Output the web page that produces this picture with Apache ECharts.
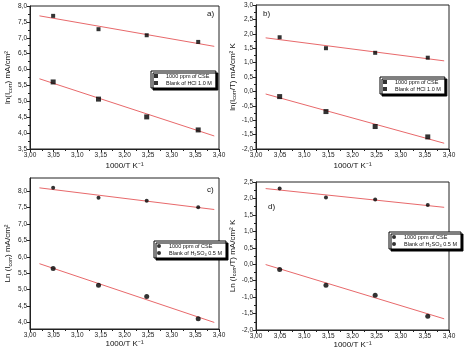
<!DOCTYPE html>
<html>
<head>
<meta charset="utf-8">
<script src="https://cdn.jsdelivr.net/npm/echarts@6/dist/echarts.min.js"></script>
<style>
  html, body { margin: 0; padding: 0; background: #fff; }
  #chart { width: 474px; height: 350px; }
</style>
</head>
<body>
<div id="chart"></div>
<script>
// 1000/T for 298, 308, 318 and 328 K
const invT = [3.049, 3.145, 3.247, 3.356];

// a) ln(Icorr), HCl 1.0 M
const aBlank = [7.69, 7.27, 7.08, 6.87];
const aCSE   = [5.61, 5.07, 4.51, 4.10];
const aBlankFit = [[3.02, 7.69], [3.39, 6.73]];
const aCSEFit   = [[3.02, 5.71], [3.39, 3.91]];

// b) ln(Icorr/T), HCl 1.0 M
const bBlank = [1.88, 1.50, 1.34, 1.17];
const bCSE   = [-0.18, -0.70, -1.22, -1.58];
const bBlankFit = [[3.02, 1.86], [3.39, 1.06]];
const bCSEFit   = [[3.02, -0.09], [3.39, -1.80]];

// c) Ln(Icorr), H2SO4 0.5 M
const cBlank = [8.10, 7.80, 7.71, 7.51];
const cCSE   = [5.64, 5.13, 4.79, 4.11];
const cBlankFit = [[3.02, 8.10], [3.39, 7.44]];
const cCSEFit   = [[3.02, 5.79], [3.39, 4.00]];

// d) Ln(Icorr/T), H2SO4 0.5 M
const dBlank = [2.30, 2.03, 1.97, 1.80];
const dCSE   = [-0.16, -0.64, -0.94, -1.58];
const dBlankFit = [[3.02, 2.30], [3.39, 1.73]];
const dCSEFit   = [[3.02, -0.01], [3.39, -1.66]];

const cYTicks = [4.0, 4.5, 5.0, 5.5, 6.0, 6.5, 7.0, 7.5, 8.0];

const nameCSE = '1000 ppm of CSE';
const nameHCl = 'Blank of HCl 1.0 M';
const nameH2SO4 = 'Blank of H₂SO₄ 0.5 M';

const FONT = 'Liberation Sans, Arial, sans-serif';
const AX = '#222';
const RED = '#e8696b';

const zip = (xs, ys) => xs.map((x, i) => [x, ys[i]]);
const comma = d => v => v.toFixed(d).replace('.', ',');

const grids = [
  { left: 30, top: 6, width: 189, height: 143 },
  { left: 256, top: 5, width: 193, height: 144 },
  { left: 30, top: 178, width: 189, height: 151 },
  { left: 256, top: 182, width: 193, height: 148 }
].map(g => Object.assign({ show: true, borderColor: AX, borderWidth: 1, backgroundColor: 'transparent' }, g));

const xTitle = '1000/T K⁻¹';
const xAxes = grids.map((g, i) => ({
  type: 'value', gridIndex: i, min: 3.0, max: 3.4, interval: 0.05,
  name: xTitle, nameLocation: 'middle', nameGap: i < 2 ? 13 : 11,
  nameTextStyle: { fontFamily: FONT, fontSize: 8, color: '#111' },
  axisLine: { onZero: false, lineStyle: { color: AX, width: 1 } },
  axisTick: { show: true, length: 3, lineStyle: { color: AX } },
  minorTick: { show: true, splitNumber: 2, length: 2, lineStyle: { color: AX } },
  splitLine: { show: false },
  axisLabel: { fontFamily: FONT, fontSize: 6.5, color: '#222', margin: 3, formatter: comma(2) }
}));

const sub = { fontFamily: FONT, fontSize: 5.5, color: '#111', padding: [4, 0, 0, 0] };
const ttl = { fontFamily: FONT, fontSize: 8, color: '#111' };
const yTitles = [
  '{t|ln(I}{s|corr}{t|) mA/cm²}',
  '{t|ln(I}{s|corr}{t|/T) mA/cm² K}',
  '{t|Ln (I}{s|corr}{t|) mA/cm²}',
  '{t|Ln (I}{s|corr}{t|/T) mA/cm² K}'
];
const yRanges = [[3.5, 8.0], [-2.0, 3.0], [3.8, 8.4], [-2.0, 2.5]];
const yAxes = yRanges.map((r, i) => {
  const ax = {
    type: 'value', gridIndex: i, min: r[0], max: r[1],
    name: yTitles[i], nameLocation: 'middle', nameRotate: 90,
    nameGap: i === 1 || i === 3 ? 12 : 17,
    nameTextStyle: { rich: { t: ttl, s: sub } },
    axisLine: { onZero: false, lineStyle: { color: AX, width: 1 } },
    axisTick: { show: true, length: 3, lineStyle: { color: AX } },
    minorTick: { show: true, splitNumber: 2, length: 2, lineStyle: { color: AX } },
    splitLine: { show: false },
    axisLabel: { fontFamily: FONT, fontSize: 6.5, color: '#222', margin: 3, formatter: comma(1) }
  };
  if (i === 2) {
    ax.axisLabel.customValues = cYTicks;
    ax.axisTick.customValues = cYTicks;
    ax.minorTick.show = false;
  } else {
    ax.interval = 0.5;
  }
  return ax;
});

function scatter(name, idx, data, symbol, size) {
  return {
    name, type: 'scatter', xAxisIndex: idx, yAxisIndex: idx, data,
    symbol, symbolSize: size, itemStyle: { color: '#000' }, silent: true, z: 5
  };
}
function fit(idx, data) {
  return {
    type: 'line', xAxisIndex: idx, yAxisIndex: idx, data, showSymbol: false,
    lineStyle: { color: RED, width: 1 }, silent: true, z: 3
  };
}

const series = [
  scatter(nameCSE, 0, zip(invT, aCSE), 'rect', 5),
  scatter(nameHCl, 0, zip(invT, aBlank), 'rect', 4),
  fit(0, aBlankFit), fit(0, aCSEFit),
  scatter(nameCSE, 1, zip(invT, bCSE), 'rect', 5),
  scatter(nameHCl, 1, zip(invT, bBlank), 'rect', 4),
  fit(1, bBlankFit), fit(1, bCSEFit),
  scatter(nameCSE, 2, zip(invT, cCSE), 'circle', 5),
  scatter(nameH2SO4, 2, zip(invT, cBlank), 'circle', 4),
  fit(2, cBlankFit), fit(2, cCSEFit),
  scatter(nameCSE, 3, zip(invT, dCSE), 'circle', 5),
  scatter(nameH2SO4, 3, zip(invT, dBlank), 'circle', 4),
  fit(3, dBlankFit), fit(3, dCSEFit)
];

function legendBox(left, top, blankName, icon) {
  return {
    left, top, orient: 'vertical', itemGap: 1, itemWidth: 4, itemHeight: 4,
    padding: [2, 4, 2, 3], backgroundColor: '#fff', borderColor: '#000', borderWidth: 1,
    shadowColor: '#000', shadowBlur: 0, shadowOffsetX: 2, shadowOffsetY: 2,
    selectedMode: false,
    textStyle: { fontFamily: FONT, fontSize: 5.5, color: '#111', padding: [0, 0, 0, 3] },
    data: [{ name: nameCSE, icon }, { name: blankName, icon }]
  };
}

const legends = [
  legendBox(151, 71, nameHCl, 'rect'),
  legendBox(380, 77, nameHCl, 'rect'),
  legendBox(154, 241, nameH2SO4, 'circle'),
  legendBox(389, 232, nameH2SO4, 'circle')
];

const panelText = (text, left, top) => ({
  type: 'text', left, top, silent: true,
  style: { text, fontFamily: FONT, fontSize: 8, fill: '#111' }
});

const chart = echarts.init(document.getElementById('chart'), null, { renderer: 'canvas' });
chart.setOption({
  backgroundColor: '#fff',
  animation: false,
  grid: grids,
  xAxis: xAxes,
  yAxis: yAxes,
  legend: legends,
  series,
  graphic: [
    panelText('a)', 207, 10),
    panelText('b)', 263, 10),
    panelText('c)', 207, 186),
    panelText('d)', 268, 203)
  ]
});
</script>
</body>
</html>
